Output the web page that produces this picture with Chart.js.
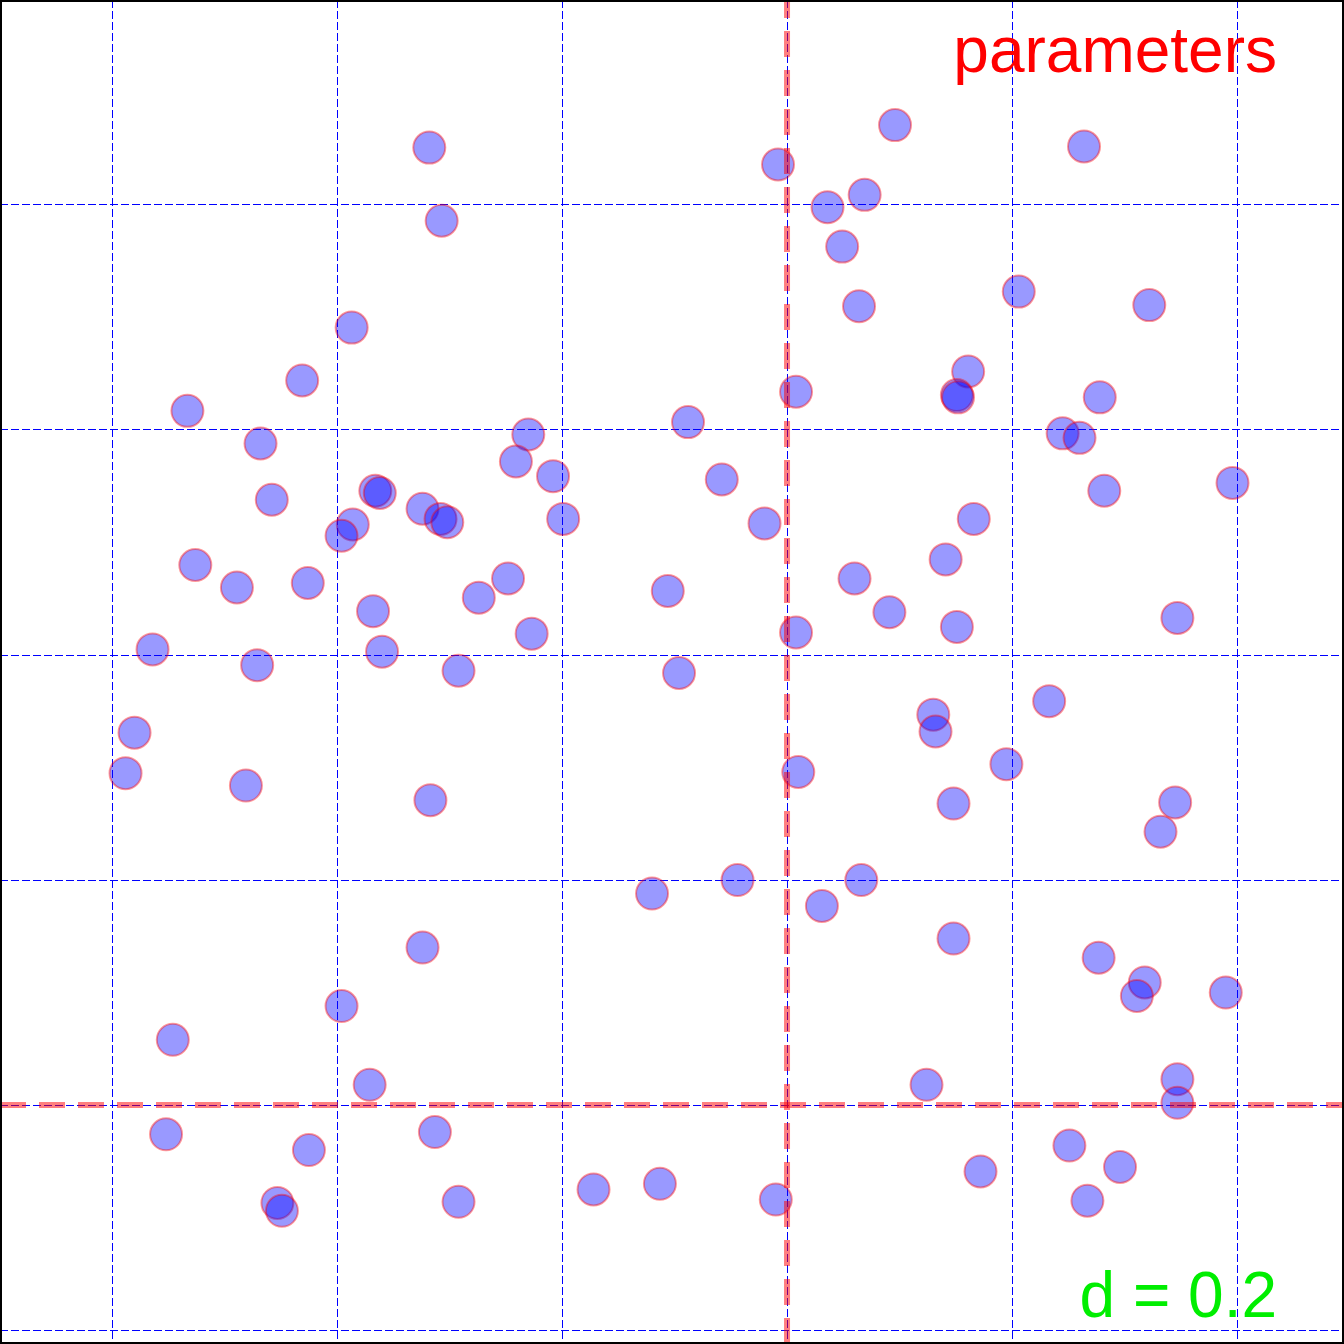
<!DOCTYPE html>
<html>
<head>
<meta charset="utf-8">
<title>parameters scatter</title>
<script src="https://cdn.jsdelivr.net/npm/chart.js@4/dist/chart.umd.min.js"></script>
<style>
  html, body { margin: 0; padding: 0; background: #fff; }
  #wrap { width: 1344px; height: 1344px; }
</style>
</head>
<body>
<div id="wrap"><canvas id="myChart" width="1344" height="1344"></canvas></div>
<script>
// sample points
var pointsX = [0.282, 0.696, 0.864, 0.592, 0.669, 0.636, 0.293, 0.649, 0.806, 0.922,
               0.664, 0.213, 0.169, 0.761, 0.608, 0.751, 0.752, 0.878, 0.067, 0.512,
               0.370, 0.132, 0.845, 0.860, 0.359, 0.392, 0.542, 0.996, 0.234, 0.238,
               0.142, 0.882, 0.276, 0.292, 0.298, 0.401, 0.766, 0.580, 0.214, 0.204,
               0.741, 0.074, 0.111, 0.174, 0.352, 0.660, 0.494, 0.326, 0.232, 0.691,
               0.947, 0.751, 0.373, 0.608, 0.036, 0.240, 0.129, 0.308, 0.504, 0.833,
               0.730, 0.732, 0.020, 0.012, 0.610, 0.795, 0.119, 0.283, 0.748, 0.945,
               0.932, 0.480, 0.556, 0.666, 0.631, 0.748, 0.276, 0.877, 0.918, 0.911,
               0.990, 0.204, 0.054, 0.229, 0.724, 0.947, 0.947, 0.048, 0.287, 0.175,
               0.851, 0.896, 0.772, 0.147, 0.151, 0.308, 0.428, 0.487, 0.590, 0.867];
var pointsY = [1.051, 1.071, 1.052, 1.036, 1.009, 0.998, 0.986, 0.963, 0.923, 0.911,
               0.910, 0.891, 0.844, 0.852, 0.834, 0.831, 0.829, 0.829, 0.817, 0.807,
               0.796, 0.788, 0.797, 0.793, 0.772, 0.759, 0.756, 0.753, 0.746, 0.744,
               0.738, 0.746, 0.730, 0.721, 0.718, 0.721, 0.721, 0.717, 0.716, 0.706,
               0.685, 0.680, 0.660, 0.664, 0.668, 0.668, 0.657, 0.651, 0.639, 0.638,
               0.633, 0.625, 0.619, 0.620, 0.605, 0.603, 0.591, 0.586, 0.584, 0.559,
               0.547, 0.532, 0.531, 0.495, 0.496, 0.503, 0.484, 0.471, 0.468, 0.469,
               0.443, 0.388, 0.400, 0.400, 0.377, 0.348, 0.340, 0.331, 0.309, 0.297,
               0.300, 0.288, 0.258, 0.218, 0.218, 0.223, 0.202, 0.174, 0.176, 0.160,
               0.164, 0.145, 0.141, 0.113, 0.106, 0.114, 0.125, 0.130, 0.116, 0.115];

// the parameter cross
var paramX = 0.6;
var paramY = 0.2;

// grid
var gridTicks = [0, 0.2, 0.4, 0.6, 0.8, 1.0];
var xRange = [-0.0996, 1.0951];
var yRange = [-0.0124, 1.1822];

var labelTop = 'parameters';
var labelBottom = 'd = 0.2';

var pts = [];
for (var i = 0; i < pointsX.length; i++) {
    pts.push({x: pointsX[i], y: pointsY[i]});
}

var frameAndLabels = {
    id: 'frameAndLabels',
    afterDraw: function(chart) {
        var ctx = chart.ctx;
        var a = chart.chartArea;
        ctx.save();
        ctx.strokeStyle = '#000';
        ctx.lineWidth = 2;
        ctx.strokeRect(a.left + 1, a.top + 1, a.right - a.left - 2, a.bottom - a.top - 2);
        ctx.font = '64px "Liberation Sans", Arial, sans-serif';
        ctx.textAlign = 'right';
        ctx.textBaseline = 'alphabetic';
        ctx.fillStyle = '#ff0000';
        ctx.fillText(labelTop, a.right - 67, a.top + 72);
        ctx.fillStyle = '#00ee00';
        ctx.fillText(labelBottom, a.right - 67, a.top + 1317);
        ctx.restore();
    }
};

function gridScale(range) {
    return {
        type: 'linear',
        min: range[0],
        max: range[1],
        afterBuildTicks: function(s) {
            s.ticks = gridTicks.map(function(v) { return {value: v}; });
        },
        ticks: {display: false},
        grid: {color: 'blue', lineWidth: 1, drawTicks: false},
        border: {display: false, dash: [8, 3]}
    };
}

var redLine = {
    type: 'line',
    borderColor: 'rgba(255,0,0,0.5)',
    borderWidth: 6,
    borderDash: [26, 13],
    pointRadius: 0,
    fill: false,
    order: 1
};

var ctx = document.getElementById('myChart').getContext('2d');
var myChart = new Chart(ctx, {
    type: 'scatter',
    data: {
        datasets: [
            Object.assign({}, redLine, {
                label: 'x param',
                data: [{x: paramX, y: yRange[0]}, {x: paramX, y: yRange[1]}]
            }),
            Object.assign({}, redLine, {
                label: 'y param',
                data: [{x: xRange[0], y: paramY}, {x: xRange[1], y: paramY}]
            }),
            {
                label: 'points',
                data: pts,
                pointRadius: 16,
                pointBorderWidth: 2,
                backgroundColor: 'rgba(0,0,255,0.4)',
                borderColor: 'rgba(255,0,0,0.4)',
                order: 2
            }
        ]
    },
    options: {
        responsive: false,
        devicePixelRatio: 1,
        animation: false,
        events: [],
        layout: {padding: 0, autoPadding: false},
        plugins: {legend: {display: false}, tooltip: {enabled: false}},
        scales: {
            x: gridScale(xRange),
            y: gridScale(yRange)
        }
    },
    plugins: [frameAndLabels]
});
</script>
</body>
</html>
